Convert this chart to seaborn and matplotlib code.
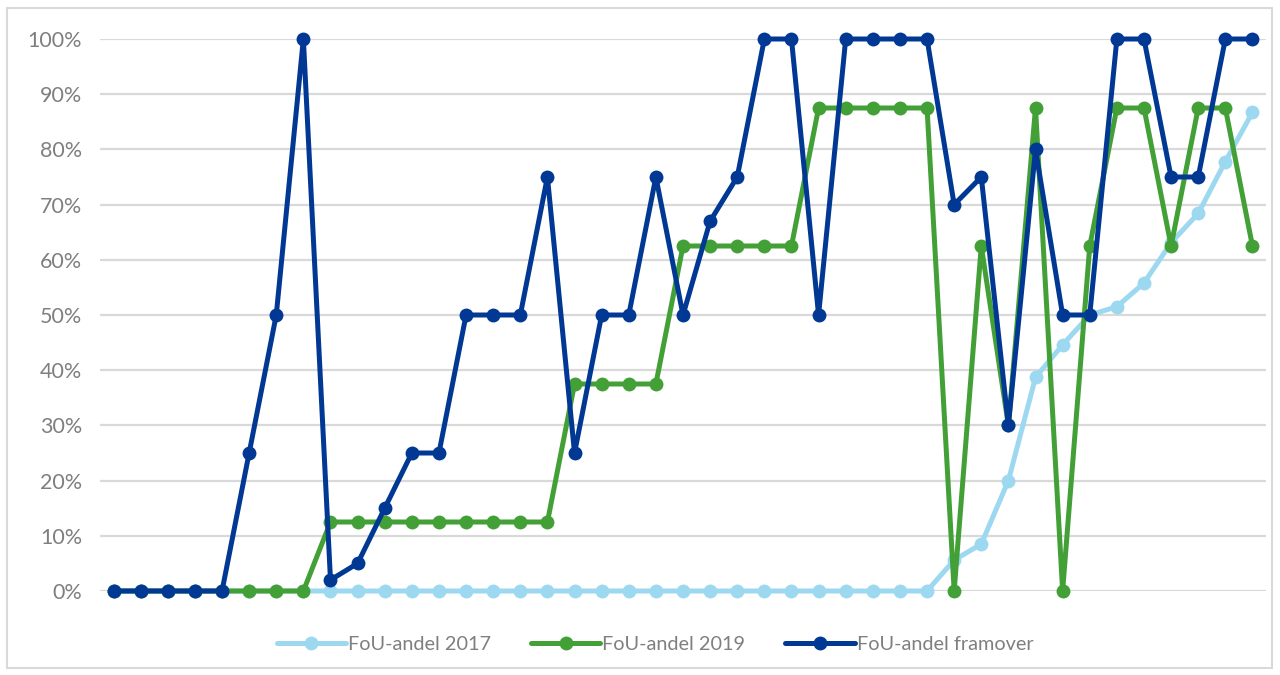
import matplotlib
matplotlib.use("Agg")
import matplotlib.pyplot as plt
from matplotlib.patches import Rectangle
from matplotlib.ticker import PercentFormatter
import numpy as np
import pandas as pd
import seaborn as sns

# Share of R&D (FoU-andel) per respondent, three series
andel_2017 = [0, 0, 0, 0, 0, 0, 0, 0, 0, 0, 0, 0, 0, 0, 0, 0, 0, 0, 0, 0, 0,
              0, 0, 0, 0, 0, 0, 0, 0, 0, 0, 5.6, 8.5, 20, 38.7, 44.6, 50,
              51.5, 55.8, 63.1, 68.4, 77.8, 86.7]
andel_2019 = [0, 0, 0, 0, 0, 0, 0, 0, 12.5, 12.5, 12.5, 12.5, 12.5, 12.5, 12.5,
              12.5, 12.5, 37.5, 37.5, 37.5, 37.5, 62.5, 62.5, 62.5, 62.5, 62.5,
              87.5, 87.5, 87.5, 87.5, 87.5, 0, 62.5, 30, 87.5, 0, 62.5, 87.5,
              87.5, 62.5, 87.5, 87.5, 62.5]
andel_framover = [0, 0, 0, 0, 0, 25, 50, 100, 2, 5, 15, 25, 25, 50, 50, 50, 75,
                  25, 50, 50, 75, 50, 67, 75, 100, 100, 50, 100, 100, 100, 100,
                  70, 75, 30, 80, 50, 50, 100, 100, 75, 75, 100, 100]
series_names = ["FoU-andel 2017", "FoU-andel 2019", "FoU-andel framover"]
series_colors = ["#9DD8F1", "#43A037", "#003894"]
y_ticks = [0, 10, 20, 30, 40, 50, 60, 70, 80, 90, 100]

n = len(andel_2017)
df = pd.DataFrame({
    "nr": np.tile(np.arange(n), 3),
    "andel": np.array(andel_2017 + andel_2019 + andel_framover) / 100.0,
    "serie": np.repeat(series_names, n),
})

sns.set_theme(style="white")
plt.rcParams["font.family"] = ["Lato", "DejaVu Sans"]

fig = plt.figure(figsize=(12.8, 6.75), dpi=100)
ax = fig.add_axes([100 / 1280, 84 / 675, 1166 / 1280, 552 / 675])

sns.lineplot(
    data=df, x="nr", y="andel", hue="serie", hue_order=series_names,
    palette=series_colors, marker="o", markersize=10, markeredgewidth=0,
    linewidth=3.6, ax=ax, clip_on=False, legend=True,
)

ax.set_xlim(-0.5, n - 0.5)
ax.set_ylim(0, 1)
ax.set_yticks(np.array(y_ticks) / 100.0)
ax.yaxis.set_major_formatter(PercentFormatter(1.0, decimals=0))
ax.set_xticks([])
ax.set_xlabel("")
ax.set_ylabel("")
ax.grid(axis="y", color="#D9D9D9", linewidth=1.6)
ax.set_axisbelow(True)
for s in ax.spines.values():
    s.set_visible(False)
ax.tick_params(axis="y", length=0, pad=13, labelsize=15.5, labelcolor="#7F7F7F")

handles, labels = ax.get_legend_handles_labels()
leg = ax.legend(
    handles, labels, loc="center", bbox_to_anchor=(0.476, -0.097), ncol=3,
    frameon=False, fontsize=14.3, handlelength=3.5, handletextpad=0.1,
    columnspacing=2.0,
)
for t in leg.get_texts():
    t.set_color("#7F7F7F")

fig.patches.append(Rectangle((7 / 1280, 7 / 675), 1265 / 1280, 660 / 675,
                             transform=fig.transFigure, fill=False,
                             edgecolor="#D9D9D9", linewidth=1.5))

fig.savefig("out.png", dpi=100)
